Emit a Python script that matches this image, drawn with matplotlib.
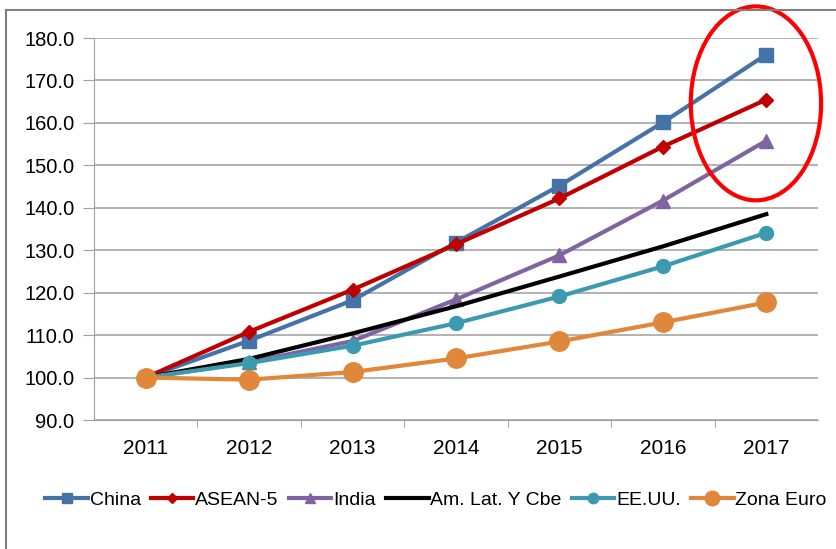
import matplotlib.pyplot as plt
from matplotlib.patches import Ellipse, Rectangle

years = ['2011', '2012', '2013', '2014', '2015', '2016', '2017']
china = [100.0, 108.7, 118.2, 131.8, 145.2, 160.1, 176.1]
asean5 = [100.0, 110.8, 120.7, 131.4, 142.2, 154.4, 165.5]
india = [100.0, 103.6, 108.6, 118.4, 128.8, 141.7, 155.8]
amlat = [100.0, 104.4, 110.4, 116.8, 123.8, 130.9, 138.5]
eeuu = [100.0, 103.4, 107.5, 112.8, 119.1, 126.2, 134.1]
zona_euro = [100.0, 99.5, 101.3, 104.5, 108.5, 113.0, 117.7]

plt.rcParams['font.family'] = ['Liberation Sans', 'DejaVu Sans']

fig = plt.figure(figsize=(8.36, 5.49), dpi=100)
ax = fig.add_axes([94 / 836, 1 - 420 / 549, (818 - 94) / 836, (420 - 38) / 549])

x = range(len(years))
ax.plot(x, china, color='#4572a7', lw=3, marker='s', ms=10, label='China')
ax.plot(x, asean5, color='#c00000', lw=3, marker='D', ms=7, label='ASEAN-5')
ax.plot(x, india, color='#8064a2', lw=3, marker='^', ms=10, label='India')
ax.plot(x, amlat, color='black', lw=3, label='Am. Lat. Y Cbe')
ax.plot(x, eeuu, color='#3c9ab0', lw=3, marker='o', ms=10, label='EE.UU.')
ax.plot(x, zona_euro, color='#e0873a', lw=3, marker='o', ms=14, label='Zona Euro')

ax.add_patch(Ellipse((5.9, 164.6), 1.26, 45.7, fill=False, ec='#ff0000', lw=3,
                     clip_on=False, zorder=5))

ax.set_xlim(-0.5, 6.5)
ax.set_ylim(90, 180)
ax.set_yticks(range(90, 181, 10))
ax.set_yticklabels([f'{v:.1f}' for v in range(90, 181, 10)], fontsize=14.5)
ax.set_xticks(list(x))
ax.set_xticklabels(years, fontsize=15)
ax.set_xticks([i + 0.5 for i in range(6)], minor=True)
ax.tick_params(axis='x', which='major', length=0, pad=14)
ax.tick_params(axis='x', which='minor', length=6, color='#a0a0a0')
ax.tick_params(axis='y', length=8, color='#a0a0a0', pad=6)
ax.grid(axis='y', color='#a6a6a6', lw=1.2)
ax.set_axisbelow(True)
for s in ['top', 'right']:
    ax.spines[s].set_visible(False)
ax.spines['left'].set_color('#a0a0a0')
ax.spines['bottom'].set_color('#a0a0a0')

ax.legend(loc='center', bbox_to_anchor=(436 / 836, 1 - 500 / 549), bbox_transform=fig.transFigure,
          ncol=6, frameon=False, fontsize=14, handlelength=2.2, handletextpad=0.1,
          columnspacing=0.5, markerscale=0.75)

fig.patches.append(Rectangle((6 / 836, -0.1), 1, 1 - 10 / 549 + 0.1, transform=fig.transFigure,
                             fill=False, ec='#7f7f7f', lw=1.5))

fig.savefig('out.png')
